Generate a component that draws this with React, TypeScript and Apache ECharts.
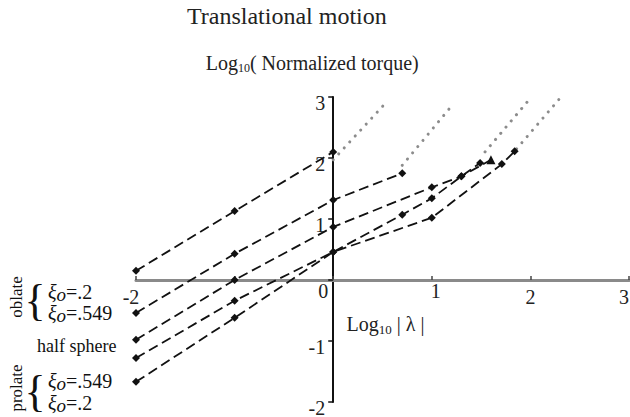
import React, { useEffect, useRef } from "react";
import * as echarts from "echarts";

// log10 |lambda| vs log10 normalized torque, one dashed curve per body shape
const oblate02 = [[-2, 0.15], [-1, 1.13], [0, 2.1]];
const oblate549 = [[-2, -0.54], [-1, 0.43], [0, 1.31], [0.7, 1.75]];
const halfSphere = [[-2, -0.98], [-1, 0.0], [0, 0.87], [1, 1.52], [1.3, 1.7], [1.6, 1.97]];
const prolate549 = [[-2, -1.28], [-1, -0.34], [0, 0.46], [0.7, 1.07], [1, 1.34], [1.3, 1.7], [1.49, 1.92]];
const prolate02 = [[-2, -1.67], [-1, -0.62], [0, 0.46], [1, 1.02], [1.71, 1.9], [1.84, 2.11]];

// dotted asymptotic continuations
const oblate02Ext = [[0, 1.97], [0.52, 2.88]];
const oblate549Ext = [[0.7, 1.88], [1.22, 2.89]];
const prolate549Ext = [[1.54, 2.1], [2.0, 2.98]];
const prolate02Ext = [[1.86, 2.15], [2.3, 2.98]];

const X_MIN = -2;
const X_MAX = 3;
const Y_MIN = -2;
const Y_MAX = 3;

const SERIF = "Liberation Serif";
const INK = "#111";
const TXT = "#222";

// plot frame; axes are shifted to cross at the origin
const G_LEFT = 136;
const G_RIGHT = 1;
const G_TOP = 97;
const G_BOTTOM = 15;
const W = 630;
const H = 417;
const plotW = W - G_LEFT - G_RIGHT;
const plotH = H - G_TOP - G_BOTTOM;
const yAxisShift = ((0 - X_MIN) / (X_MAX - X_MIN)) * plotW;
const xAxisShift = ((0 - Y_MIN) / (Y_MAX - Y_MIN)) * plotH;

const dashed = (name: string, data: number[][], lastSymbol?: string) => ({
  name,
  type: "line",
  data: data.map((p, i) =>
    lastSymbol && i === data.length - 1 ? { value: p, symbol: lastSymbol, symbolSize: 9 } : p
  ),
  symbol: "diamond",
  symbolSize: 8,
  itemStyle: { color: INK },
  lineStyle: { color: INK, width: 1.8, type: [10, 5] },
  z: 3,
});

const dotted = (data: number[][]) => ({
  type: "line",
  data,
  symbol: "none",
  lineStyle: { color: "#8c8c8c", width: 3, type: [0.1, 8], cap: "round" },
  z: 2,
});

const xiRich = {
  x: { fontFamily: SERIF, fontStyle: "italic", fontSize: 20, color: INK, lineHeight: 16 },
  o: { fontFamily: SERIF, fontStyle: "italic", fontSize: 19, color: INK, lineHeight: 16, padding: [5, 0, 0, 0] },
  n: { fontFamily: SERIF, fontSize: 20, color: INK, lineHeight: 16 },
};

const xiText = (val: string, x: number, y: number) => ({
  type: "text",
  left: x,
  top: y,
  style: { text: `{x|ξ}{o|o}{n|=${val}}`, rich: xiRich, fill: INK },
});

// vertical group name with a curly brace opening towards its two entries
const bracketGroup = (name: string, cy: number) => [
  {
    type: "text",
    x: 16,
    y: cy,
    rotation: Math.PI / 2,
    style: { text: name, font: `17px ${SERIF}`, fill: INK, align: "center", verticalAlign: "middle" },
  },
  {
    type: "text",
    x: 35,
    y: cy + 3,
    style: { text: "{", font: `44px ${SERIF}`, fill: INK, align: "center", verticalAlign: "middle" },
  },
];

export default function App() {
  const ref = useRef<HTMLDivElement>(null);

  useEffect(() => {
    if (!ref.current) return;
    const chart = echarts.init(ref.current, null, { renderer: "svg" });

    const lbl = { fontFamily: SERIF, fontSize: 20, color: TXT };
    const xLabel = (v: number) => {
      if (v === -1) return "";
      if (v === 0) return "{z|0}";
      if (v === 1) return "{u|1}";
      if (v === -2) return "{m|-2}";
      if (v === 3) return "{e|3}";
      return "{d|" + v + "}";
    };

    chart.setOption({
      animation: false,
      backgroundColor: "#fff",
      textStyle: { fontFamily: SERIF },
      grid: {
        left: G_LEFT,
        right: G_RIGHT,
        top: G_TOP,
        bottom: G_BOTTOM,
        containLabel: false,
        outerBoundsMode: "none",
      },
      xAxis: {
        type: "value",
        min: X_MIN,
        max: X_MAX,
        interval: 1,
        position: "bottom",
        offset: -xAxisShift,
        name: "{l|Log}{s|10}{l| | λ |}",
        nameLocation: "middle",
        nameGap: 19,
        nameTextStyle: {
          fontFamily: SERIF,
          padding: [0, 0, 0, 6],
          rich: {
            l: { fontFamily: SERIF, fontSize: 20, color: TXT, lineHeight: 24 },
            s: { fontFamily: SERIF, fontSize: 13, color: TXT, lineHeight: 24, padding: [11, 0, 0, 0] },
          },
        },
        axisLine: { onZero: false, lineStyle: { color: "#8a8a8a", width: 3 } },
        axisTick: { show: true, inside: true, length: 4, lineStyle: { color: "#444", width: 1.5 } },
        splitLine: { show: false },
        axisLabel: {
          margin: 1,
          ...lbl,
          formatter: xLabel,
          rich: {
            d: { ...lbl, padding: [6, 0, 0, 0] },
            e: { ...lbl, padding: [6, 10, 0, 0] },
            z: { ...lbl, padding: [0, 20, 0, 0] },
            u: { ...lbl, padding: [0, 0, 0, 8] },
            m: { ...lbl, padding: [6, 10, 0, 0] },
          },
        },
      },
      yAxis: {
        type: "value",
        min: Y_MIN,
        max: Y_MAX,
        interval: 1,
        position: "left",
        offset: -yAxisShift,
        name: "{l|Log}{s|10}{l|( Normalized torque)}",
        nameLocation: "end",
        nameGap: 22,
        nameTextStyle: {
          fontFamily: SERIF,
          padding: [0, 42, 0, 0],
          rich: {
            l: { fontFamily: SERIF, fontSize: 20, color: TXT, lineHeight: 24 },
            s: { fontFamily: SERIF, fontSize: 12, color: TXT, lineHeight: 24, padding: [10, 0, 0, 0] },
          },
        },
        axisLine: { onZero: false, lineStyle: { color: INK, width: 2 } },
        axisTick: { show: true, length: 5, lineStyle: { color: INK, width: 1.5 } },
        splitLine: { show: false },
        axisLabel: {
          margin: 8,
          ...lbl,
          formatter: (v: number) => (v === 0 ? "" : "{y|" + v + "}"),
          rich: { y: { ...lbl, padding: [11, 0, 0, 0] } },
        },
      },
      series: [
        dashed("oblate ξo=.2", oblate02),
        dashed("oblate ξo=.549", oblate549),
        dashed("half sphere", halfSphere, "triangle"),
        dashed("prolate ξo=.549", prolate549),
        dashed("prolate ξo=.2", prolate02),
        dotted(oblate02Ext),
        dotted(oblate549Ext),
        dotted(prolate549Ext),
        dotted(prolate02Ext),
      ],
      graphic: [
        {
          type: "text",
          left: 187,
          top: 4,
          style: { text: "Translational motion", font: `24px ${SERIF}`, fill: TXT },
        },
        ...bracketGroup("oblate", 297),
        xiText(".2", 48, 280),
        xiText(".549", 48, 301),
        {
          type: "text",
          left: 37,
          top: 337,
          style: { text: "half sphere", font: `18px ${SERIF}`, fill: INK },
        },
        ...bracketGroup("prolate", 388),
        xiText(".549", 48, 369),
        xiText(".2", 48, 391),
      ],
    });

    return () => chart.dispose();
  }, []);

  return (
    <div
      ref={ref}
      style={{ position: "fixed", left: 0, top: 0, width: W, height: H, background: "#fff" }}
    />
  );
}
